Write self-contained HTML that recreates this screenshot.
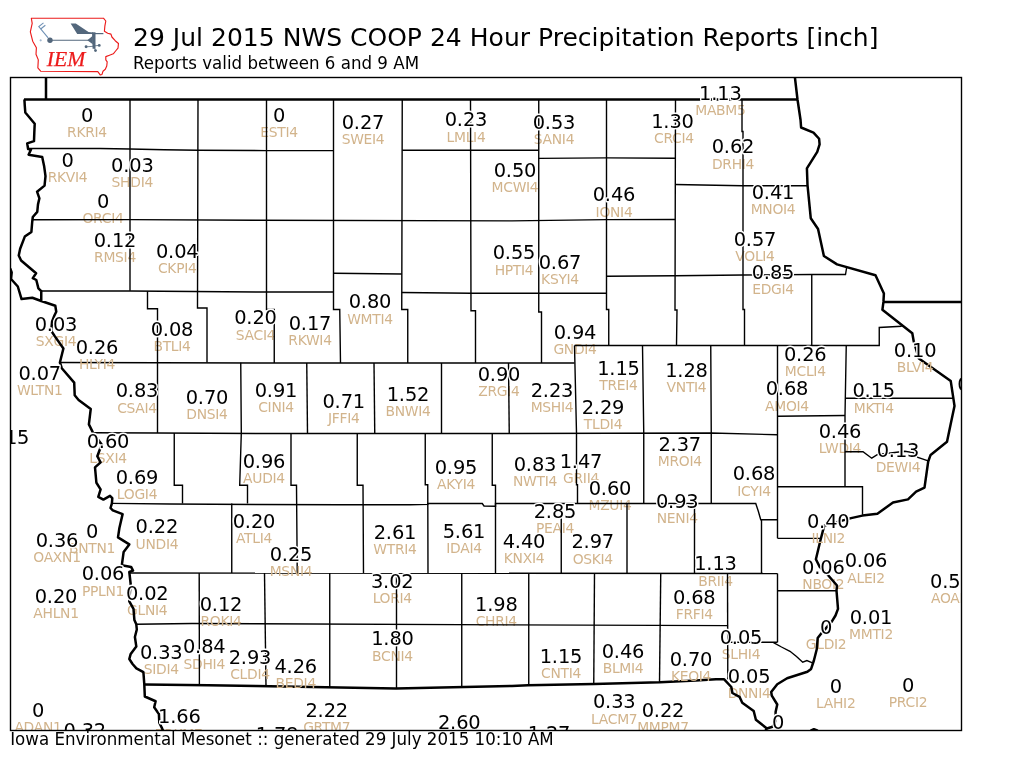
<!DOCTYPE html>
<html lang="en"><head><meta charset="utf-8"><title>IEM COOP Precipitation</title>
<style>
html,body{margin:0;padding:0;background:#fff;}
body{width:1024px;height:768px;overflow:hidden;position:relative;}
svg{position:absolute;left:0;top:0;display:block;}
text{font-family:"DejaVu Sans","Liberation Sans",sans-serif;}
.v{font-size:19.44px;letter-spacing:-0.15px;fill:#000;stroke:#fff;stroke-width:2.8px;stroke-linejoin:round;paint-order:stroke fill;text-anchor:middle;}
.l{font-size:13.89px;letter-spacing:-0.3px;fill:#d2b48c;text-anchor:middle;}
.c{fill:none;stroke:#000;stroke-width:1.4px;stroke-linejoin:miter;}
.s{fill:none;stroke:#000;stroke-width:2.5px;stroke-linejoin:round;stroke-linecap:butt;}
</style></head><body>
<svg width="1024" height="768" viewBox="0 0 1024 768">
<rect x="0" y="0" width="1024" height="768" fill="#fff"/>
<text x="133" y="46" style="font-size:25px;letter-spacing:0.02px">29 Jul 2015 NWS COOP 24 Hour Precipitation Reports [inch]</text>
<text transform="translate(133,68.9) scale(0.942,1)" style="font-size:17.7px">Reports valid between 6 and 9 AM</text>
<text transform="translate(10.2,745) scale(0.942,1)" style="font-size:17.7px">Iowa Environmental Mesonet :: generated 29 July 2015 10:10 AM</text>
<g id="logo">
<path d="M31.3,18.2 L103.45,18.2 L105.8,21 L104.85,26.2 L104.4,31.3 L107.7,33.2 L110.95,34.15 L111.9,37 L115.2,40.7 L118.45,43.5 L118,48.2 L115.6,51 L113.3,53.8 L109.5,55.2 L105.8,56.65 L105.8,59.9 L107.2,61.8 L106.75,66 L105.3,69.3 L103,71.2 L102,74.45 L100.2,74.9 L97.8,71.65 L40.65,71.2 L37.85,67.9 L38.3,59.9 L36,54.3 L36.4,47.75 L32.7,41.2 L30.35,31.8 L32.2,23.4 Z" fill="#fff" stroke="#ec1b1b" stroke-width="1.15" stroke-linejoin="round"/>
<g stroke="#53677c" fill="#53677c">
<line x1="50" y1="40.25" x2="89" y2="40.25" stroke-width="1.2"/>
<circle cx="50" cy="40.25" r="2.7" stroke="none"/>
<polygon points="70.65,23.4 75.8,23.4 88.5,31.9 93,32.4 93,33.9 77.2,33.9" stroke="none"/>
<polygon points="92,32.3 95.5,32.3 95.5,48.7 92.6,48.7" stroke="none"/>
<line x1="95" y1="33.6" x2="103.4" y2="33.6" stroke-width="1.2"/>
<polygon points="87.3,40.25 92.8,35.8 92.8,44.2" stroke="none"/>
<line x1="86.1" y1="46.8" x2="93.5" y2="46.3" stroke-width="0.8"/>
<line x1="94" y1="45.9" x2="99.25" y2="45.4" stroke-width="0.8"/>
<line x1="94" y1="46.8" x2="95.5" y2="50.5" stroke-width="0.8"/>
<circle cx="86.1" cy="46.8" r="1.45" stroke="none"/>
<circle cx="99.25" cy="45.4" r="1.4" stroke="none"/>
<circle cx="95.5" cy="50.55" r="1.4" stroke="none"/>
</g>
<g stroke="#7091b5" stroke-width="1.1" fill="none">
<polyline points="48.15,37.9 38.8,26.65 43.5,22.9"/>
<line x1="40.65" y1="29" x2="45.35" y2="25.25"/>
<path d="M39.5,40.3h2.4M40.7,39.1v2.4" stroke-width="0.5"/>
</g>
<text x="66" y="66" textLength="38.4" lengthAdjust="spacingAndGlyphs" style="font-family:'Liberation Serif','DejaVu Serif',serif;font-style:italic;font-size:20.6px;fill:#ec1b1b;stroke:#ec1b1b;stroke-width:0.25px;text-anchor:middle">IEM</text>
</g>
<clipPath id="fc"><rect x="10.5" y="77.5" width="951" height="653"/></clipPath>
<g clip-path="url(#fc)">
<g class="l">
<text x="87" y="137.3">RKRI4</text>
<text x="279" y="136.8">ESTI4</text>
<text x="363" y="144.3">SWEI4</text>
<text x="466" y="141.55">LMLI4</text>
<text x="554" y="144.3">SANI4</text>
<text x="673.9" y="143.05">CRCI4</text>
<text x="720.4" y="115.3">MABM5</text>
<text x="733" y="168.55">DRHI4</text>
<text x="67.5" y="182.3">RKVI4</text>
<text x="132.3" y="186.9">SHDI4</text>
<text x="103" y="223.05">ORCI4</text>
<text x="515" y="191.8">MCWI4</text>
<text x="614" y="216.55">IONI4</text>
<text x="773" y="214.3">MNOI4</text>
<text x="115" y="262.3">RMSI4</text>
<text x="177.25" y="272.8">CKPI4</text>
<text x="514" y="274.55">HPTI4</text>
<text x="560" y="283.8">KSYI4</text>
<text x="755" y="261.05">VOLI4</text>
<text x="773" y="293.8">EDGI4</text>
<text x="56" y="345.8">SXGI4</text>
<text x="172" y="351.3">BTLI4</text>
<text x="255.5" y="339.55">SACI4</text>
<text x="310" y="345.05">RKWI4</text>
<text x="370" y="324">WMTI4</text>
<text x="575" y="353.8">GNDI4</text>
<text x="39.75" y="395.05">WLTN1</text>
<text x="137" y="412.75">CSAI4</text>
<text x="207" y="419.05">DNSI4</text>
<text x="276" y="412.05">CINI4</text>
<text x="343.75" y="422.8">JFFI4</text>
<text x="408" y="415.8">BNWI4</text>
<text x="499" y="395.8">ZRGI4</text>
<text x="552" y="412.05">MSHI4</text>
<text x="618.5" y="390.3">TREI4</text>
<text x="686.5" y="392.05">VNTI4</text>
<text x="603" y="428.8">TLDI4</text>
<text x="805.25" y="375.8">MCLI4</text>
<text x="787" y="410.8">AMOI4</text>
<text x="873.75" y="412.55">MKTI4</text>
<text x="840" y="453.3">LWDI4</text>
<text x="898" y="471.9">DEWI4</text>
<text x="108" y="463.05">LSXI4</text>
<text x="137" y="499.3">LOGI4</text>
<text x="264" y="483.3">AUDI4</text>
<text x="456" y="488.8">AKYI4</text>
<text x="535" y="486.4">NWTI4</text>
<text x="581" y="483.05">GRII4</text>
<text x="610" y="509.8">MZUI4</text>
<text x="679.75" y="466.05">MROI4</text>
<text x="754" y="495.55">ICYI4</text>
<text x="677.25" y="523.05">NENI4</text>
<text x="156.9" y="548.55">UNDI4</text>
<text x="92" y="553.05">BNTN1</text>
<text x="57" y="561.8">OAXN1</text>
<text x="254" y="542.5">ATLI4</text>
<text x="395" y="554.3">WTRI4</text>
<text x="464" y="553.05">IDAI4</text>
<text x="524" y="563.05">KNXI4</text>
<text x="555" y="533.05">PEAI4</text>
<text x="592.75" y="563.55">OSKI4</text>
<text x="715.5" y="585.55">BRII4</text>
<text x="823.3" y="589.1">NBOI2</text>
<text x="866" y="582.7">ALEI2</text>
<text x="951.4" y="603.05">AOAI2</text>
<text x="103" y="595.55">PPLN1</text>
<text x="56" y="618.05">AHLN1</text>
<text x="147.25" y="615.05">GLNI4</text>
<text x="392.25" y="603.05">LORI4</text>
<text x="496.3" y="625.6">CHRI4</text>
<text x="694.25" y="619.1">FRFI4</text>
<text x="871" y="639.3">MMTI2</text>
<text x="826.1" y="648.8">GLDI2</text>
<text x="161.25" y="674.3">SIDI4</text>
<text x="204.25" y="668.55">SDHI4</text>
<text x="392.5" y="660.55">BCNI4</text>
<text x="561" y="678.05">CNTI4</text>
<text x="623" y="673.05">BLMI4</text>
<text x="741" y="659.3">SLHI4</text>
<text x="749.1" y="697.9">DNNI4</text>
<text x="835.75" y="708.05">LAHI2</text>
<text x="908" y="707.3">PRCI2</text>
<text x="38" y="731.8">ADAN1</text>
<text x="179.3" y="739">TRKM7</text>
<text x="326.75" y="731.8">GRTM7</text>
<text x="614.25" y="723.55">LACM7</text>
<text x="663" y="731.8">MMPM7</text>
</g>
<g class="c">
<polyline points="28,148.5 100,148.5 130,149 164,149.7 198,150.2 266.5,150.6 333.5,150.6"/>
<polyline points="402.25,150.25 470.5,150.25 538.75,150.25"/>
<polyline points="538.75,158.4 606.5,157.9 675,158.25"/>
<polyline points="675,184.5 742.5,185.75 807.3,185.75"/>
<polyline points="32.5,219.7 130,219.6 256,220.25 512,220.9 606.5,219.6 675,219.5"/>
<polyline points="41.25,291 130,291 256,292 333.5,292"/>
<polyline points="401.75,292.5 471,293.25 606.5,293.25"/>
<polyline points="333.5,273.25 401.75,274"/>
<polyline points="606.5,276.25 675,275.75 743,275 811.75,274.5 845.5,274.5 846.75,267"/>
<polyline points="59.9,362.5 157.5,362.75 256,363 574.5,363"/>
<polyline points="574.5,345.5 879.25,345.5 879.25,327.5 901.75,326.25"/>
<polyline points="92.6,432.8 157.5,433 256,433.5 512,433.5 711,433 777.5,434.75"/>
<polyline points="777.5,416.25 845,415.5"/>
<polyline points="846,398.3 953.5,398.3"/>
<polyline points="111.9,503.4 170,504 256,504.5 340,504.8 410,504.8 427.75,504.4 427.75,503.5 482.25,503.5 484,506 495.5,506.3 495.5,503.5 755.75,503.5 758.25,511 760.75,519.75 777.5,519.75"/>
<polyline points="777.5,486.75 862.5,486.75 862.5,514.75"/>
<polyline points="777.5,538.4 820.5,538.4"/>
<polyline points="130,573 777.5,573.5"/>
<polyline points="777.5,590.8 836.5,590.8"/>
<polyline points="136.3,624.3 192,623.5 256,623.7 512,624.9 727.5,625.6"/>
<polyline points="727.5,642.25 777.5,642.3"/>
<polyline points="773.5,642.6 781.5,647 790,651.3 796.5,656.5 802.7,662.2 806.9,660.5 812.5,662.8"/>
<polyline points="130,99.5 130,290.75"/>
<polyline points="198,99.5 197.5,308 207,308 207,362.5"/>
<polyline points="266.5,99.5 266.5,309.5 274.25,309.5 274.25,363"/>
<polyline points="333.5,99.5 333.5,309.5 339.75,309.5 340.5,363"/>
<polyline points="402.25,99.5 401.75,309.5 407.75,309.5 407.75,363"/>
<polyline points="470.5,99.5 471,310.75 475.5,310.75 475.5,363"/>
<polyline points="538.75,99.5 538.75,312 541.5,312 541.5,363"/>
<polyline points="606.5,99.5 606.5,309.5 608.75,309.5 608.75,345.5"/>
<polyline points="675.5,99.5 675,310 677,310 676.5,345.5"/>
<polyline points="742,99.5 742,131.5 743,131.5 743,309.5 744.5,309.5 744.5,345.5"/>
<polyline points="811.75,274.5 811.75,345.5"/>
<polyline points="147.5,291.25 147.5,308.75 157.5,308.75 157.5,433"/>
<polyline points="240.75,362.75 241.3,433.3 239.7,485.25 247.5,485.25 247.5,503.5"/>
<polyline points="306.75,363 307.5,433.5"/>
<polyline points="374,363 374.75,433.5"/>
<polyline points="441.5,363 441.5,433.5"/>
<polyline points="508.5,363 509.25,433.5"/>
<polyline points="574.5,345.5 576.5,433 576.5,484.75 577.5,484.75 577.5,503.5"/>
<polyline points="642.5,345.5 643.75,433 643.75,503.5"/>
<polyline points="710.75,345.5 711.25,433 711.25,503.5"/>
<polyline points="777.5,345.5 777.5,538.25"/>
<polyline points="846.25,345.5 845,415.5 845,486.75"/>
<polyline points="174.25,433 174.25,485.25 182.5,485.25 182.5,503.5"/>
<polyline points="291,433.5 291,485.25 296.5,485.25 297.25,573"/>
<polyline points="357.25,433.5 357.25,485.25 363,485.25 363.5,573"/>
<polyline points="425.25,433.5 425.25,484.75 427.75,484.75 428,573"/>
<polyline points="492.25,433.5 492.25,485.25 495.5,485.25 495.5,573"/>
<polyline points="231.75,503.5 231.75,573"/>
<polyline points="561.25,503.5 561.25,573"/>
<polyline points="627,503.5 627,573"/>
<polyline points="694.5,503.5 694.5,573"/>
<polyline points="761.5,519.75 761.5,573.5"/>
<polyline points="199.2,573 199.4,685"/>
<polyline points="264.5,573 266,687"/>
<polyline points="329.75,573 329.75,688"/>
<polyline points="396.5,573 396.5,688.5"/>
<polyline points="461.75,573 461.75,687"/>
<polyline points="528.75,573 528.75,685.25"/>
<polyline points="594.5,573 593.75,684"/>
<polyline points="660.75,573 659.5,682.5"/>
<polyline points="727.5,573 727.8,679.3"/>
<polyline points="777.5,573.5 777.5,642.25"/>
<polyline points="845,451.75 863,451.75 871.75,458.2 877.6,454.5 890.7,453 904.8,451.2 913.2,452.6 917.9,457.3 928.2,460.8"/>
</g>
<g class="s">
<polyline points="24,99.5 797.5,99.5"/>
<polyline points="46,76 46,99.5"/>
<polyline points="883.4,302.1 963,302.1"/>
<polyline points="24.4,99.4 24.8,106 25.3,112.5 34.7,123.75 34.3,133 34,141.1 27.2,143.4 28.1,149 31,149.5 28.6,154.7 42.2,157 44.1,165.9 45.5,176.2 44.55,185.6 37.05,191.7 39.4,198.3 38,204.4 37.25,211.9 32.8,217 32.2,222 31.4,231.9 24.8,236.6 20.15,248.8 18.75,255.4 21.1,260.5 36.1,273.3 32.8,278.1 36.3,280 38.4,288.4 41.25,291.2 41.25,301 55.3,305.7 56.25,311.8 54.4,315.5 52.1,321.4 51.2,330.75 54.9,336.4 63.4,348.5 59.9,362.5 61.8,368.2 74.2,382.65 74.7,395.3 78.6,400 90.75,408.9 88.9,424.4 92.6,431.9 102,445 100.1,448.75 97.3,456.25 100.6,462.3 95,467.4 96.4,482.75 100.6,489.3 98.3,496.8 103.4,499.6 110,495.9 112.3,498.2 111.9,503.4 110.5,508 112.8,510.4 122.6,514.1 119.4,528 118,537.4 129.3,544.4 123.65,551.9 121.8,565.3 131.1,566.9 133,570.6 129.3,572 130.7,584.25 130,591 129.3,601.4 133.5,608.9 134.4,620.1 136.3,624.3 136.8,629.5 134.9,637 136.3,646.4 130.7,653.9 129.3,659 132.55,664 136.4,668.4 143.4,672.2 144.3,684.4 144.8,696.5 155.6,701.25 154.2,707.3 158.9,713.9 159.3,722.8 162.1,728.4 164,733"/>
<polyline points="8,266 10.3,268.7 11.7,272.4 11.05,279 17.8,286.5 21.55,299.1 32.3,297.75 41.25,301"/>
<polyline points="794.75,76 797.5,99.5 800.55,120 801.1,127.5 813.5,132.65 819.1,138.75 819.6,144.4 817.25,151.9 806.9,168.3 807.5,185 810.75,218.2 818.05,229 823.9,256 837.05,264.4 875.5,275.2 883.9,293.5 883.45,301.9 882.4,309.8 912.3,333.3 913.7,341.25 918.9,358.6 950.75,381.1 954.5,405.9 950.7,424 947,441.8 930.6,454.9 928.2,461.5 924.5,487.7 916.1,491.7 908,499.4 893,502.5 877.4,513.75 862.4,515.6 851.1,518.1 824.25,525.6 820.5,540 815.9,559.25 819.5,566.5 828.1,575.2 837,585.5 836.5,590.6 838,608.9 835.5,615.5 831.75,621.6 821.4,633.3 817.7,638 816.75,649.25 813.9,660.5 811.1,668.9 807.4,671.75 787.1,678.2 777.25,684.2 771.2,691.9 771.8,695.7 777.25,704.5 775.6,712.1 775.7,721 772.5,726.8 766.9,728.5 764,733"/>
<polyline points="144.3,684.4 208,685.2 256,686 396,688.5 512,686 528,685.25 594,684 660,682.25 695.75,680.5 716,679.3 724.2,679.3 731.3,687 732.4,693 739.5,696.8 742.25,702.8 753.7,711 755.9,719.8 766.9,728.5"/>
<polyline points="809,733 811.2,730.4 813.9,729.2 817.2,730.4 819,733"/>
</g>
<g class="l">
<text x="97" y="368.8">HLYI4</text>
<text x="915.1" y="372.1">BLVI4</text>
<text x="291" y="576.05">MSNI4</text>
<text x="828.25" y="543.05">ILNI2</text>
<text x="221" y="626.3">ROKI4</text>
<text x="250" y="678.8">CLDI4</text>
<text x="295.75" y="688.05">BEDI4</text>
<text x="691" y="681.3">KEOI4</text>
</g>
<g class="v">
<text x="87" y="122">0</text>
<text x="279" y="121.5">0</text>
<text x="363" y="129">0.27</text>
<text x="466" y="126.25">0.23</text>
<text x="554" y="129">0.53</text>
<text x="672.5" y="127.75">1.30</text>
<text x="720.4" y="100">1.13</text>
<text x="733" y="153.25">0.62</text>
<text x="67.5" y="167">0</text>
<text x="132.3" y="171.6">0.03</text>
<text x="103" y="207.75">0</text>
<text x="515" y="176.5">0.50</text>
<text x="614" y="201.25">0.46</text>
<text x="773" y="199">0.41</text>
<text x="115" y="247">0.12</text>
<text x="177.25" y="257.5">0.04</text>
<text x="514" y="259.25">0.55</text>
<text x="560" y="268.5">0.67</text>
<text x="755" y="245.75">0.57</text>
<text x="773" y="278.5">0.85</text>
<text x="56" y="330.5">0.03</text>
<text x="97" y="353.5">0.26</text>
<text x="172" y="336">0.08</text>
<text x="255.5" y="324.25">0.20</text>
<text x="310" y="329.75">0.17</text>
<text x="370" y="308">0.80</text>
<text x="575" y="338.5">0.94</text>
<text x="39.75" y="379.75">0.07</text>
<text x="137" y="396.75">0.83</text>
<text x="207" y="403.75">0.70</text>
<text x="276" y="396.75">0.91</text>
<text x="343.75" y="407.5">0.71</text>
<text x="408" y="400.5">1.52</text>
<text x="499" y="380.5">0.90</text>
<text x="552" y="396.75">2.23</text>
<text x="618.5" y="375">1.15</text>
<text x="686.5" y="376.75">1.28</text>
<text x="603" y="413.5">2.29</text>
<text x="805.25" y="360.5">0.26</text>
<text x="787" y="394.8">0.68</text>
<text x="873.75" y="397.25">0.15</text>
<text x="915.1" y="356.8">0.10</text>
<text x="840" y="438">0.46</text>
<text x="898" y="456.6">0.13</text>
<text x="8" y="444.3">0.15</text>
<text x="108" y="447.75">0.60</text>
<text x="137" y="484">0.69</text>
<text x="264" y="468">0.96</text>
<text x="456" y="473.5">0.95</text>
<text x="535" y="471.1">0.83</text>
<text x="581" y="467.75">1.47</text>
<text x="610" y="494.5">0.60</text>
<text x="679.75" y="450.75">2.37</text>
<text x="754" y="480.25">0.68</text>
<text x="677.25" y="507.75">0.93</text>
<text x="156.9" y="533.25">0.22</text>
<text x="92" y="537.75">0</text>
<text x="57" y="546.5">0.36</text>
<text x="254" y="528.1">0.20</text>
<text x="291" y="560.75">0.25</text>
<text x="395" y="539">2.61</text>
<text x="464" y="537.75">5.61</text>
<text x="524" y="547.75">4.40</text>
<text x="555" y="517.75">2.85</text>
<text x="592.75" y="548.25">2.97</text>
<text x="715.5" y="570.25">1.13</text>
<text x="828.25" y="527.75">0.40</text>
<text x="823.3" y="573.5">0.06</text>
<text x="866" y="567.4">0.06</text>
<text x="951.4" y="587.75">0.52</text>
<text x="103" y="580.25">0.06</text>
<text x="56" y="602.75">0.20</text>
<text x="147.25" y="599.75">0.02</text>
<text x="221" y="611">0.12</text>
<text x="392.25" y="587.75">3.02</text>
<text x="496.3" y="610.8">1.98</text>
<text x="694.25" y="603.8">0.68</text>
<text x="871" y="624">0.01</text>
<text x="826.1" y="633.5">0</text>
<text x="161.25" y="659">0.33</text>
<text x="204.25" y="653.25">0.84</text>
<text x="250" y="663.5">2.93</text>
<text x="295.75" y="672.75">4.26</text>
<text x="392.5" y="645.25">1.80</text>
<text x="561" y="662.75">1.15</text>
<text x="623" y="657.75">0.46</text>
<text x="691" y="666">0.70</text>
<text x="741" y="644">0.05</text>
<text x="749.1" y="682.6">0.05</text>
<text x="835.75" y="692.75">0</text>
<text x="908" y="692">0</text>
<text x="38" y="716.5">0</text>
<text x="84.75" y="737">0.32</text>
<text x="179.3" y="723.3">1.66</text>
<text x="277" y="740.7">1.78</text>
<text x="326.75" y="716.5">2.22</text>
<text x="459.25" y="728.5">2.60</text>
<text x="549" y="740.2">1.27</text>
<text x="614.25" y="708.25">0.33</text>
<text x="663" y="716.5">0.22</text>
<text x="778" y="728.5">0</text>
<text x="978.5" y="391.2">0.02</text>
</g>
</g>
<rect x="10.5" y="77.5" width="951" height="653" fill="none" stroke="#000" stroke-width="1.39"/>
</svg>
</body></html>
